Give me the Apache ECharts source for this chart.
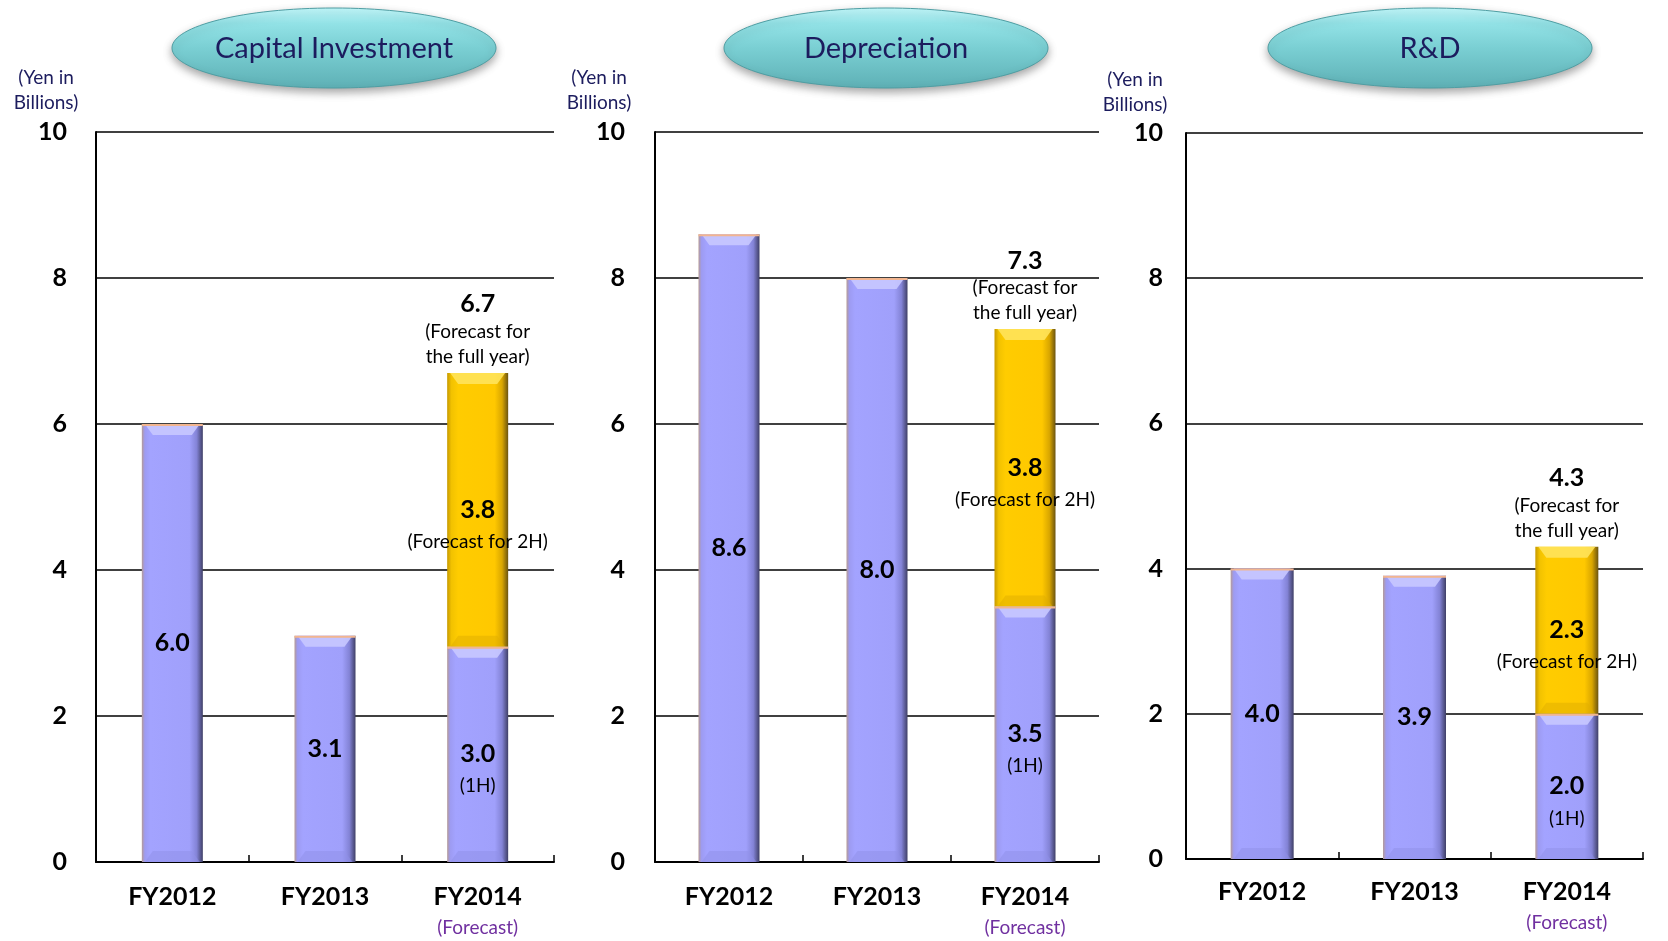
<!DOCTYPE html>
<html>
<head>
<meta charset="utf-8">
<title>Capital Investment, Depreciation, R&amp;D</title>
<script src="https://cdn.jsdelivr.net/npm/echarts@6/dist/echarts.min.js"></script>
<style>
  html, body { margin: 0; padding: 0; background: #ffffff; }
  #chart { width: 1668px; height: 941px; }
</style>
</head>
<body>
<div id="chart"></div>
<script>
// Fiscal years shown on each panel
const years = ['FY2012', 'FY2013', 'FY2014'];
const yTicks = [0, 2, 4, 6, 8, 10];

// Capital Investment (Yen in billions): actuals / FY2014 1H, then FY2014 2H forecast
const capexFirst  = [6.0, 3.1, 2.95];
const capexSecond = [null, null, 3.75];

// Depreciation
const deprFirst  = [8.6, 8.0, 3.5];
const deprSecond = [null, null, 3.8];

// R&D
const rndFirst  = [4.0, 3.9, 2.0];
const rndSecond = [null, null, 2.3];

const FONT = 'Lato, "Open Sans", sans-serif';
const NAVY = '#1c1c5e';

const panels = [
  { title: 'Capital Investment', first: capexFirst, second: capexSecond,
    grid: { left: 96, top: 132, width: 458, height: 730 }, barWidth: 61, yMargin: 29, xMargin: 20,
    oval: { cx: 334, cy: 48 }, unit: { x: 46, y: 90 } },
  { title: 'Depreciation', first: deprFirst, second: deprSecond,
    grid: { left: 655, top: 132, width: 444, height: 730 }, barWidth: 61, yMargin: 30, xMargin: 20,
    oval: { cx: 886, cy: 48 }, unit: { x: 599, y: 90 } },
  { title: 'R&D', first: rndFirst, second: rndSecond,
    grid: { left: 1186, top: 133, width: 457, height: 726 }, barWidth: 63, yMargin: 23, xMargin: 18,
    oval: { cx: 1430, cy: 48 }, unit: { x: 1135, y: 92 } }
];

const fmt = v => Number(v).toFixed(1);

const lavender = new echarts.graphic.LinearGradient(0, 0, 1, 0, [
  { offset: 0, color: '#b59a96' },
  { offset: 0.05, color: '#9d9bf2' },
  { offset: 0.14, color: '#a3a3ff' },
  { offset: 0.78, color: '#a0a0fb' },
  { offset: 0.9, color: '#8383d6' },
  { offset: 1, color: '#3f3f66' }
]);
const gold = new echarts.graphic.LinearGradient(0, 0, 1, 0, [
  { offset: 0, color: '#c79a00' },
  { offset: 0.07, color: '#f2c200' },
  { offset: 0.18, color: '#ffcc00' },
  { offset: 0.78, color: '#ffc800' },
  { offset: 0.9, color: '#d9a600' },
  { offset: 1, color: '#6b5410' }
]);

const richLabel = {
  v: { fontFamily: FONT, fontSize: 25, fontWeight: 'bold', color: '#000', lineHeight: 30 },
  s: { fontFamily: FONT, fontSize: 19, color: '#000', lineHeight: 34 },
  t: { fontFamily: FONT, fontSize: 19, color: '#000', lineHeight: 25 }
};

const grids = [], xAxes = [], yAxes = [], series = [], graphics = [];

panels.forEach((p, k) => {
  grids.push(Object.assign({ containLabel: false }, p.grid));

  xAxes.push({
    type: 'category', gridIndex: k, data: years,
    axisLine: { show: true, lineStyle: { color: '#000', width: 2 } },
    axisTick: { show: true, inside: true, length: 7, lineStyle: { color: '#000', width: 1.5 } },
    axisLabel: {
      margin: p.xMargin,
      formatter: v => v === 'FY2014' ? '{y|' + v + '}\n{f|(Forecast)}' : '{y|' + v + '}',
      rich: {
        y: { fontFamily: FONT, fontSize: 25, fontWeight: 'bold', color: '#000', lineHeight: 30 },
        f: { fontFamily: FONT, fontSize: 19, color: '#7030a0', lineHeight: 32 }
      }
    },
    splitLine: { show: false }
  });

  yAxes.push({
    type: 'value', gridIndex: k, min: yTicks[0], max: yTicks[yTicks.length - 1], interval: 2,
    axisLine: { show: true, lineStyle: { color: '#000', width: 2 } },
    axisTick: { show: false },
    axisLabel: { margin: p.yMargin, fontFamily: FONT, fontSize: 25, fontWeight: 'bold', color: '#000' },
    splitLine: { show: true, lineStyle: { color: '#000', width: 1.5 } }
  });

  const first = p.first, second = p.second;

  // Actual values and FY2014 first half
  series.push({
    type: 'bar', name: p.title + ' 1H', xAxisIndex: k, yAxisIndex: k, stack: 'tot' + k,
    data: first, barWidth: p.barWidth,
    itemStyle: { color: lavender },
    label: {
      show: true, position: 'inside',
      formatter: prm => second[prm.dataIndex] != null
        ? '{v|' + fmt(prm.value) + '}\n{s|(1H)}'
        : '{v|' + fmt(prm.value) + '}',
      rich: richLabel
    },
    labelLayout: prm => second[prm.dataIndex] != null ? { dy: 17 } : {},
    z: 2
  });

  // FY2014 second-half forecast
  series.push({
    type: 'bar', name: p.title + ' 2H', xAxisIndex: k, yAxisIndex: k, stack: 'tot' + k,
    data: second, barWidth: p.barWidth,
    itemStyle: { color: gold },
    label: {
      show: true, position: 'inside',
      formatter: prm => '{v|' + fmt(prm.value) + '}\n{s|(Forecast for 2H)}',
      rich: richLabel
    },
    labelLayout: { dy: 17 },
    z: 2
  });

  // Full-year total above the stacked bar
  const totals = years.map((_, i) => second[i] != null ? first[i] + second[i] : null);
  series.push({
    type: 'scatter', name: p.title + ' total', xAxisIndex: k, yAxisIndex: k,
    data: totals, symbolSize: 1, itemStyle: { color: 'rgba(0,0,0,0)', opacity: 1 },
    label: {
      show: true, position: 'top', distance: 3, opacity: 1, color: '#000',
      formatter: prm => '{v|' + fmt(prm.value) + '}\n{t|(Forecast for}\n{t|the full year)}',
      rich: richLabel
    },
    silent: true, z: 5
  });

  // Bevel highlights on each bar segment
  const segs = [];
  years.forEach((_, i) => {
    segs.push([i, 0, first[i], 0]);
    if (second[i] != null) segs.push([i, first[i], first[i] + second[i], 1]);
  });
  const bw = p.barWidth;
  series.push({
    type: 'custom', name: p.title + ' bevel', xAxisIndex: k, yAxisIndex: k,
    data: segs, encode: { x: 0, y: [1, 2] }, silent: true, z: 3,
    renderItem: (params, api) => {
      const i = api.value(0), lo = api.value(1), hi = api.value(2), kind = api.value(3);
      const pb = api.coord([i, lo]), pt = api.coord([i, hi]);
      const x0 = pb[0] - bw / 2, x1 = pb[0] + bw / 2;
      const yb = pb[1], yt = pt[1];
      const d = Math.min(11, (yb - yt) / 3);
      const topFill = kind === 0 ? '#c8c8ff' : '#ffe35a';
      const botFill = kind === 0 ? '#9090e8' : '#e0ad00';
      const children = [
        { type: 'polygon', shape: { points: [[x0 + 3, yt], [x1 - 3, yt], [x1 - d, yt + d], [x0 + d, yt + d]] },
          style: { fill: topFill, opacity: 0.9 } },
        { type: 'polygon', shape: { points: [[x0 + 3, yb], [x1 - 3, yb], [x1 - d, yb - d], [x0 + d, yb - d]] },
          style: { fill: botFill, opacity: 0.5 } }
      ];
      if (kind === 0) {
        children.push({ type: 'line', shape: { x1: x0, y1: yt + 1, x2: x1, y2: yt + 1 },
          style: { stroke: '#f2b58f', lineWidth: 2 } });
      }
      return { type: 'group', children: children };
    }
  });

  // Oval title badge
  graphics.push({
    type: 'ellipse', shape: { cx: p.oval.cx, cy: p.oval.cy, rx: 162, ry: 40 },
    style: {
      fill: new echarts.graphic.LinearGradient(0, 0, 0, 1, [
        { offset: 0, color: '#c4fafd' },
        { offset: 0.2, color: '#92e2e6' },
        { offset: 0.5, color: '#7acfd3' },
        { offset: 1, color: '#5eb0b5' }
      ]),
      stroke: '#4f9ea3', lineWidth: 1,
      shadowBlur: 8, shadowOffsetY: 4, shadowColor: 'rgba(0,0,0,0.35)'
    },
    z: 10
  });
  graphics.push({
    type: 'text', x: p.oval.cx, y: p.oval.cy + 1,
    style: { text: p.title, fontFamily: FONT, fontSize: 29, fill: NAVY, align: 'center', verticalAlign: 'middle' },
    z: 11
  });

  // Unit caption
  graphics.push({
    type: 'text', x: p.unit.x, y: p.unit.y,
    style: { text: '(Yen in\nBillions)', fontFamily: FONT, fontSize: 19, lineHeight: 25, fill: NAVY,
      align: 'center', verticalAlign: 'middle' },
    z: 11
  });
});

const chart = echarts.init(document.getElementById('chart'), null, { renderer: 'canvas' });
chart.setOption({
  backgroundColor: '#ffffff',
  animation: false,
  grid: grids,
  xAxis: xAxes,
  yAxis: yAxes,
  series: series,
  graphic: graphics
});
</script>
</body>
</html>
